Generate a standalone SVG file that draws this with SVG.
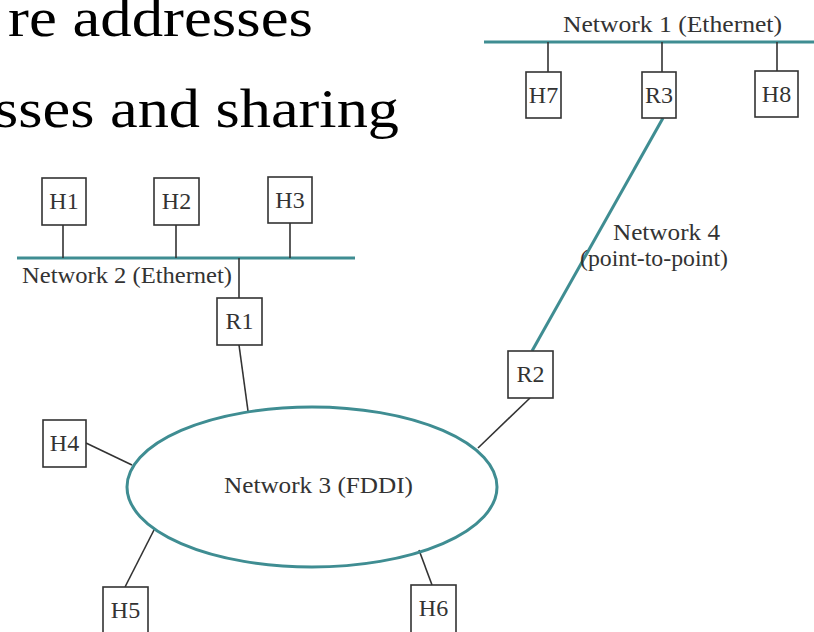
<svg xmlns="http://www.w3.org/2000/svg" width="814" height="632" viewBox="0 0 814 632">
<style>
.bg{fill:#ffffff}
.slide{font-family:"Liberation Serif","Times New Roman",serif;font-size:54px;fill:#000}
.net{stroke:#3f8d92;stroke-width:3;fill:none}
.link{stroke:#333;stroke-width:1.6;fill:none}
.box{fill:#fff;stroke:#333;stroke-width:1.6}
.lbl{font-family:"Liberation Serif","Times New Roman",serif;font-size:24px;fill:#333}
.nl{text-anchor:middle}
</style>
<rect class="bg" width="814" height="632"/>
<text class="slide" x="8" y="36" textLength="305" lengthAdjust="spacingAndGlyphs">re addresses</text>
<text class="slide" x="-6" y="127" textLength="405" lengthAdjust="spacingAndGlyphs">sses and sharing</text>

<g id="connectors">
  <line class="net" x1="484" y1="42" x2="814" y2="42"/>
  <line class="net" x1="17" y1="258" x2="355" y2="258"/>
  <line class="net" x1="663" y1="118" x2="532" y2="351"/>
  <line class="link" x1="548" y1="42" x2="548" y2="72"/>
  <line class="link" x1="662" y1="42" x2="662" y2="72"/>
  <line class="link" x1="777" y1="42" x2="777" y2="71"/>
  <line class="link" x1="63" y1="225" x2="63" y2="258"/>
  <line class="link" x1="176" y1="225" x2="176" y2="258"/>
  <line class="link" x1="290" y1="223" x2="290" y2="258"/>
  <line class="link" x1="239" y1="258" x2="239" y2="298"/>
  <line class="link" x1="239" y1="345" x2="248" y2="411"/>
  <line class="link" x1="530" y1="398" x2="478" y2="448"/>
  <line class="link" x1="86" y1="443" x2="132" y2="465"/>
  <line class="link" x1="125" y1="587" x2="155" y2="528"/>
  <line class="link" x1="419" y1="550" x2="432" y2="585"/>
</g>

<g id="network1-label"><text class="lbl" x="563" y="32" textLength="219" lengthAdjust="spacingAndGlyphs">Network 1 (Ethernet)</text></g>
<g id="network2-label"><text class="lbl" x="22" y="283" textLength="210" lengthAdjust="spacingAndGlyphs">Network 2 (Ethernet)</text></g>
<g id="network4-label">
  <text class="lbl" x="613" y="240" textLength="107" lengthAdjust="spacingAndGlyphs">Network 4</text>
  <text class="lbl" x="580" y="266" textLength="148" lengthAdjust="spacingAndGlyphs">(point-to-point)</text>
</g>
<g id="network3">
  <ellipse class="net" cx="312" cy="487" rx="185" ry="80"/>
  <text class="lbl" x="224" y="493" textLength="189" lengthAdjust="spacingAndGlyphs">Network 3 (FDDI)</text>
</g>

<g id="H7"><rect class="box" x="526" y="72" width="35" height="46"/><text class="lbl nl" x="543.5" y="103">H7</text></g>
<g id="R3"><rect class="box" x="642" y="72" width="34" height="46"/><text class="lbl nl" x="659" y="103">R3</text></g>
<g id="H8"><rect class="box" x="755" y="71" width="43" height="46"/><text class="lbl nl" x="776.5" y="102">H8</text></g>
<g id="H1"><rect class="box" x="42" y="178" width="44" height="47"/><text class="lbl nl" x="64" y="209">H1</text></g>
<g id="H2"><rect class="box" x="154" y="178" width="45" height="47"/><text class="lbl nl" x="176.5" y="209">H2</text></g>
<g id="H3"><rect class="box" x="268" y="177" width="44" height="46"/><text class="lbl nl" x="290" y="208">H3</text></g>
<g id="R1"><rect class="box" x="217" y="298" width="45" height="47"/><text class="lbl nl" x="239.5" y="329">R1</text></g>
<g id="R2"><rect class="box" x="508" y="351" width="45" height="47"/><text class="lbl nl" x="530.5" y="382">R2</text></g>
<g id="H4"><rect class="box" x="43" y="420" width="43" height="47"/><text class="lbl nl" x="64.5" y="451">H4</text></g>
<g id="H5"><rect class="box" x="103" y="587" width="45" height="50"/><text class="lbl nl" x="125.5" y="618">H5</text></g>
<g id="H6"><rect class="box" x="411" y="585" width="45" height="50"/><text class="lbl nl" x="433.5" y="616">H6</text></g>
</svg>
